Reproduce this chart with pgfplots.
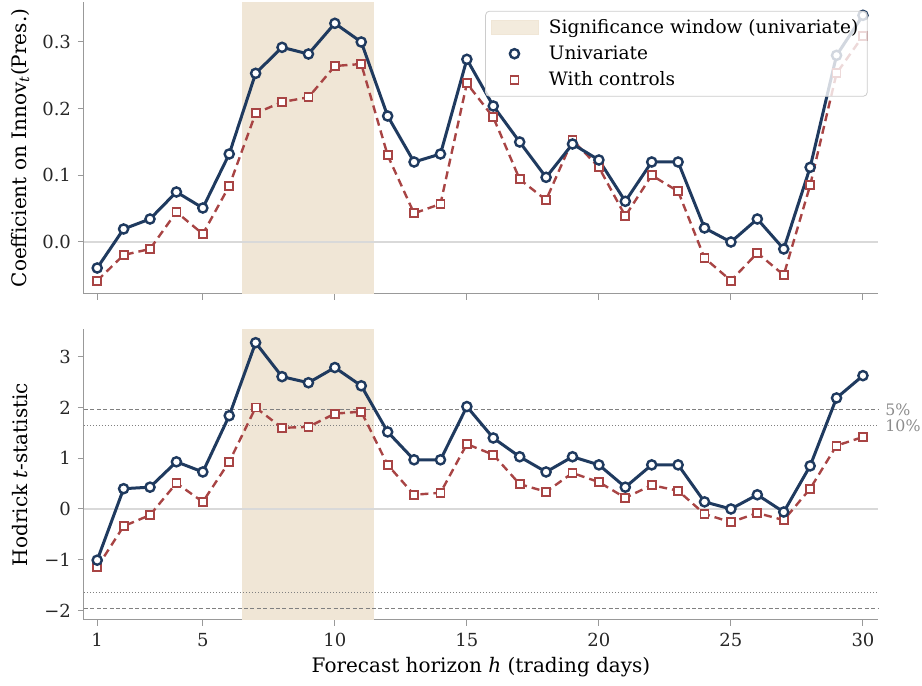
\documentclass[border=0pt]{standalone}
\usepackage{fontspec}
\setmainfont{DejaVu Serif}
\usepackage{pgfplots}
\pgfplotsset{compat=1.18}
\definecolor{navy}{HTML}{1F3A5F}
\definecolor{brick}{HTML}{A84444}
\definecolor{sigshade}{HTML}{F0E6D6}
\definecolor{spine}{HTML}{999999}
\pgfplotsset{
  base/.style={
    scale only axis, width=397pt,
    font=\fontsize{10}{12}\selectfont,
    ticklabel style={text=black!85, font=\fontsize{9}{10.8}\selectfont},
    xmin=0.5, xmax=30.57,
    axis x line*=bottom, axis y line*=left,
    axis line style={spine, line width=0.5pt},
    every tick/.style={spine, line width=0.5pt},
    tick align=outside, major tick length=3pt,
    xtick={1,5,10,15,20,25,30},
    clip=false,
  },
  uni/.style={navy, line width=1.5pt, mark=*, mark size=2.3pt, mark options={fill=white, draw=navy, line width=1.2pt, solid}},
  ctl/.style={brick, line width=1.2pt, dash pattern=on 4pt off 2.5pt, mark=square*, mark size=2pt, mark options={fill=white, draw=brick, line width=0.9pt, solid}},
}
\pgfplotstableread{
h uc cc ut ct
1 -0.039 -0.058 -1.01 -1.15
2 0.0195 -0.0195 0.40 -0.34
3 0.0345 -0.0105 0.43 -0.12
4 0.075 0.045 0.93 0.51
5 0.051 0.012 0.73 0.14
6 0.132 0.084 1.84 0.93
7 0.253 0.193 3.28 2.00
8 0.292 0.210 2.61 1.60
9 0.282 0.217 2.49 1.62
10 0.328 0.264 2.79 1.88
11 0.300 0.267 2.43 1.92
12 0.189 0.130 1.52 0.87
13 0.120 0.043 0.97 0.28
14 0.132 0.057 0.97 0.32
15 0.274 0.238 2.02 1.28
16 0.204 0.187 1.40 1.07
17 0.150 0.094 1.03 0.49
18 0.097 0.063 0.73 0.34
19 0.147 0.153 1.03 0.71
20 0.123 0.112 0.87 0.53
21 0.061 0.039 0.43 0.22
22 0.120 0.100 0.87 0.47
23 0.120 0.076 0.87 0.36
24 0.021 -0.024 0.14 -0.10
25 0.000 -0.058 0.00 -0.26
26 0.0345 -0.0165 0.28 -0.08
27 -0.0105 -0.0495 -0.06 -0.22
28 0.112 0.085 0.85 0.40
29 0.280 0.253 2.19 1.25
30 0.340 0.309 2.63 1.42
}\datatable
\begin{document}
\begin{tikzpicture}
\useasboundingbox (0,0) rectangle (461pt,343pt);
% top panel
\begin{axis}[base, at={(42pt,196pt)}, anchor=south west, height=146pt,
  ymin=-0.078, ymax=0.36,
  ytick={0,0.1,0.2,0.3}, yticklabels={0.0,0.1,0.2,0.3},
  xticklabels={},
  ylabel={Coefficient on Innov\textsubscript{\itshape t}(Pres.)},
  ylabel style={at={(axis description cs:-0.0806,0.5)}, anchor=center},
  legend cell align=left,
  legend style={at={(0.987,0.97)}, anchor=north east, draw=black!20, rounded corners=2pt,
    fill=white, fill opacity=0.8, text opacity=1, font=\fontsize{9.25}{11}\selectfont,
    row sep=0.6pt, inner xsep=2.5pt, inner ysep=2pt},
]
\fill[sigshade] (axis cs:6.5,-0.078) rectangle (axis cs:11.5,0.36);
\draw[black!15, line width=0.6pt] (axis cs:0.5,0) -- (axis cs:30.57,0);
\addplot[ctl, forget plot] table[x=h, y=cc] {\datatable};
\addplot[uni, forget plot] table[x=h, y=uc] {\datatable};
\addlegendimage{legend image code/.code={\fill[sigshade, sharp corners] (0pt,-3.5pt) rectangle (23.5pt,3.5pt); \path[draw=none, fill=none] (0pt,0pt) -- (27pt,0pt);}}
\addlegendentry{Significance window (univariate)}
\addlegendimage{legend image code/.code={\draw[navy, line width=1.2pt, fill=white] (11.75pt,0pt) circle (2.3pt); \path[draw=none, fill=none] (0pt,0pt) -- (27pt,0pt);}}
\addlegendentry{Univariate}
\addlegendimage{legend image code/.code={\draw[brick, line width=0.9pt, fill=white, sharp corners] (9.75pt,-2pt) rectangle (13.75pt,2pt); \path[draw=none, fill=none] (0pt,0pt) -- (27pt,0pt);}}
\addlegendentry{With controls}
\end{axis}
% bottom panel
\begin{axis}[base, at={(42pt,33pt)}, anchor=south west, height=145.5pt,
  ymin=-2.19, ymax=3.55,
  ytick={-2,-1,0,1,2,3}, yticklabels={−2,−1,0,1,2,3},
  xticklabels={1,5,10,15,20,25,30},
  ylabel={Hodrick \textit{t}-statistic},
  ylabel style={at={(axis description cs:-0.0806,0.5)}, anchor=center},
  xlabel={Forecast horizon \textit{h} (trading days)},
  xlabel style={at={(axis description cs:0.5,0)}, yshift=-23.5pt, anchor=center},
]
\fill[sigshade] (axis cs:6.5,-2.19) rectangle (axis cs:11.5,3.55);
\draw[black!15, line width=0.6pt] (axis cs:0.5,0) -- (axis cs:30.57,0);
\draw[black!50, line width=0.5pt, dash pattern=on 2pt off 1.2pt] (axis cs:0.5,1.96) -- (axis cs:30.57,1.96);
\draw[black!50, line width=0.5pt, dash pattern=on 2pt off 1.2pt] (axis cs:0.5,-1.96) -- (axis cs:30.57,-1.96);
\draw[black!50, line width=0.4pt, dash pattern=on 0.5pt off 1pt] (axis cs:0.5,1.645) -- (axis cs:30.57,1.645);
\draw[black!50, line width=0.4pt, dash pattern=on 0.5pt off 1pt] (axis cs:0.5,-1.645) -- (axis cs:30.57,-1.645);
\node[anchor=west, text=black!45, font=\fontsize{7.9}{9}\selectfont, inner sep=0pt] at ([xshift=3.5pt]axis cs:30.57,1.96) {5\%};
\node[anchor=west, text=black!45, font=\fontsize{7.9}{9}\selectfont, inner sep=0pt] at ([xshift=3.5pt]axis cs:30.57,1.645) {10\%};
\addplot[ctl] table[x=h, y=ct] {\datatable};
\addplot[uni] table[x=h, y=ut] {\datatable};
\end{axis}
\end{tikzpicture}
\end{document}
